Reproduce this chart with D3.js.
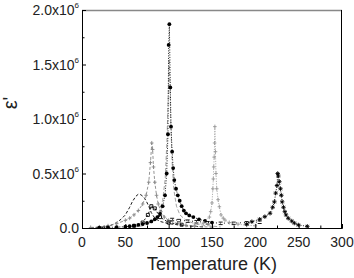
<!DOCTYPE html>
<html>
<head>
<meta charset="utf-8">
<script src="https://cdn.jsdelivr.net/npm/d3@7"></script>
<style>
  body { margin: 0; background: #fff; }
  svg { display: block; font-family: "Liberation Sans", Arial, sans-serif; }
</style>
</head>
<body>
<div id="chart"></div>
<script>
// values in units of 1e6
const xTicks = [0, 50, 100, 150, 200, 250, 300];
const yTicks = [0, 0.5, 1.0, 1.5, 2.0];

// broad black dashed curve
const bT = [10, 20, 30, 35, 40, 45, 50, 55, 58, 62, 65, 68, 71, 74, 77, 80, 84, 90, 100, 110, 120, 140];
const bV = [0.002, 0.005, 0.015, 0.03, 0.05, 0.08, 0.12, 0.19, 0.24, 0.29, 0.31, 0.305, 0.285, 0.25, 0.2, 0.14, 0.09, 0.06, 0.04, 0.03, 0.02, 0.01];

// gray dashed, peak near 80 K
const aT = [10, 20, 30, 40, 50, 55, 60, 65, 70, 74, 77, 79, 80.5, 81.5, 82.5, 84, 86, 88, 91, 95, 100, 110, 120, 130, 150];
const aV = [0.005, 0.01, 0.02, 0.04, 0.07, 0.09, 0.12, 0.16, 0.22, 0.3, 0.42, 0.6, 0.78, 0.72, 0.56, 0.42, 0.3, 0.22, 0.15, 0.1, 0.07, 0.04, 0.025, 0.015, 0.008];

// gray dashed, peak near 101 K
const dT = [60, 70, 80, 88, 93, 96, 98, 99.5, 100.5, 101.5, 102.5, 104, 106, 109, 113, 120, 130, 140, 160];
const dV = [0.01, 0.02, 0.05, 0.12, 0.25, 0.45, 0.8, 1.2, 1.55, 1.3, 0.95, 0.6, 0.35, 0.2, 0.12, 0.07, 0.04, 0.025, 0.01];

// filled circles, dotted
const cT = [20, 30, 40, 50, 55, 60, 65, 70, 75, 80, 84, 87, 90, 93, 95.8, 97.7, 99.2, 100, 100.8, 101.9, 102.7, 104, 105.2, 106.5, 108.5, 110.5, 112.7, 115, 117.5, 120, 123.8, 128.5, 135, 142, 150];
const cV = [0.004, 0.006, 0.008, 0.012, 0.016, 0.022, 0.028, 0.036, 0.046, 0.06, 0.08, 0.1, 0.13, 0.2, 0.3, 0.5, 0.86, 1.68, 1.87, 1.29, 0.93, 0.7, 0.55, 0.44, 0.36, 0.3, 0.25, 0.2, 0.16, 0.135, 0.115, 0.1, 0.08, 0.065, 0.05];

// small open squares, peak near 82 K
const gT = [60, 70, 76, 80, 84, 90, 100, 115];
const gV = [0.02, 0.05, 0.12, 0.2, 0.18, 0.1, 0.05, 0.03];

// low dashes 100-205 K
const hT = [104, 112, 122, 132, 145, 160, 175, 190, 205];
const hV = [0.08, 0.07, 0.065, 0.06, 0.05, 0.045, 0.045, 0.05, 0.055];

// gray plus, peak near 153 K
const eT = [130, 140, 147, 148.5, 150, 151, 151.5, 152, 152.5, 153, 153.3, 154, 154.6, 155.5, 157, 158.5, 160.4, 163, 165, 170, 180, 190, 200];
const eV = [0.025, 0.045, 0.1, 0.15, 0.23, 0.36, 0.45, 0.56, 0.65, 0.78, 0.93, 0.7, 0.5, 0.36, 0.26, 0.195, 0.12, 0.09, 0.073, 0.05, 0.035, 0.025, 0.02];

// black stars, peak near 226 K
const fT = [190, 196, 205, 211, 217, 220, 222, 223.5, 225, 225.8, 226.5, 227.7, 229, 230, 231, 232.5, 234, 235.4, 238, 242, 245, 249.6, 260];
const fV = [0.035, 0.058, 0.08, 0.104, 0.135, 0.19, 0.24, 0.32, 0.39, 0.5, 0.477, 0.425, 0.36, 0.3, 0.24, 0.19, 0.15, 0.12, 0.089, 0.064, 0.045, 0.028, 0.015];

const W = 354, H = 278;
const m = { left: 82, right: 12, top: 10, bottom: 50 };

const x = d3.scaleLinear().domain([0, 300]).range([m.left, W - m.right]);
const y = d3.scaleLinear().domain([0, 2.0]).range([H - m.bottom, m.top]);

const svg = d3.select('#chart').append('svg')
    .attr('width', W)
    .attr('height', H);

svg.append('clipPath').attr('id', 'clip')
  .append('rect')
    .attr('x', m.left).attr('y', m.top)
    .attr('width', x(300) - m.left).attr('height', y(0) - m.top);

const plot = svg.append('g').attr('clip-path', 'url(#clip)');

const zip = (ts, vs) => ts.map((t, i) => [t, vs[i]]);
const line = d3.line().x(d => x(d[0])).y(d => y(d[1]));

const series = [
  { data: zip(bT, bV), color: '#000', dash: '3,2', marker: null },
  { data: zip(aT, aV), color: '#888', dash: '3,2', marker: 'plus' },
  { data: zip(dT, dV), color: '#999', dash: '4,2', marker: null },
  { data: zip(gT, gV), color: '#000', dash: '2,2', marker: 'square' },
  { data: zip(hT, hV), color: '#000', dash: '1,3', marker: 'dash' },
  { data: zip(cT, cV), color: '#000', dash: '1,1.5', marker: 'circle' },
  { data: zip(eT, eV), color: '#999', dash: '1,1.5', marker: 'plus' },
  { data: zip(fT, fV), color: '#000', dash: '1,1.5', marker: 'star' },
];

const markers = {
  plus: 'M-1.8,0H1.8M0,-2V2',
  dash: 'M-2,-1H2M-2,1.5H2',
  star: 'M-2.2,0H2.2M0,-2.2V2.2M-1.5,-1.5L1.5,1.5M-1.5,1.5L1.5,-1.5',
  square: 'M-1.5,-1.5H1.5V1.5H-1.5Z',
};

series.forEach(s => {
  plot.append('path')
      .datum(s.data)
      .attr('fill', 'none')
      .attr('stroke', s.color)
      .attr('stroke-width', 0.9)
      .attr('stroke-dasharray', s.dash)
      .attr('d', line);

  if (!s.marker) return;
  const g = plot.append('g');
  if (s.marker === 'circle') {
    g.selectAll('circle')
      .data(s.data)
      .enter().append('circle')
        .attr('cx', d => x(d[0]))
        .attr('cy', d => y(d[1]))
        .attr('r', 1.9)
        .attr('fill', s.color);
  } else {
    g.selectAll('path')
      .data(s.data)
      .enter().append('path')
        .attr('transform', d => `translate(${x(d[0])},${y(d[1])})`)
        .attr('d', markers[s.marker])
        .attr('fill', 'none')
        .attr('stroke', s.color)
        .attr('stroke-width', 0.9);
  }
});

// frame
svg.append('line')
    .attr('x1', m.left).attr('x2', x(300))
    .attr('y1', y(2) + 0.5).attr('y2', y(2) + 0.5)
    .attr('stroke', '#888').attr('stroke-width', 1.5);
svg.append('line')
    .attr('x1', x(300) - 0.5).attr('x2', x(300) - 0.5)
    .attr('y1', y(2)).attr('y2', y(0))
    .attr('stroke', '#000');

// axes with inward ticks
const yAxis = svg.append('g')
    .attr('transform', `translate(${m.left},0)`)
    .call(d3.axisLeft(y).tickValues(d3.range(0, 2.01, 0.25)).tickSize(-4).tickFormat(''));
yAxis.selectAll('.tick line')
    .attr('x2', (d, i) => i % 2 ? 2.5 : 4);
yAxis.select('.domain').attr('stroke', '#000');

const xAxis = svg.append('g')
    .attr('transform', `translate(0,${y(0)})`)
    .call(d3.axisBottom(x).tickValues(d3.range(0, 301, 25)).tickSize(-4).tickFormat(''));
xAxis.selectAll('.tick line')
    .attr('y2', (d, i) => i % 2 ? -2.5 : -4);

// tick labels
const yLab = svg.append('g')
    .attr('font-size', 14)
    .attr('fill', '#222');
yTicks.forEach(v => {
  const t = yLab.append('text')
      .attr('x', m.left - 3)
      .attr('y', y(v) + 5)
      .attr('text-anchor', 'end');
  if (v === 0) {
    t.text('0.0');
  } else {
    t.append('tspan').text(v.toFixed(1) + 'x10');
    t.append('tspan').attr('font-size', 8).attr('dy', -7).text('6');
  }
});

svg.append('g')
    .attr('font-size', 14)
    .attr('fill', '#222')
  .selectAll('text')
  .data(xTicks)
  .enter().append('text')
    .attr('x', d => x(d))
    .attr('y', y(0) + 19)
    .attr('text-anchor', 'middle')
    .text(d => d);

svg.append('text')
    .attr('x', (m.left + x(300)) / 2)
    .attr('y', H - 8)
    .attr('text-anchor', 'middle')
    .attr('font-size', 18)
    .attr('fill', '#222')
    .text('Temperature (K)');

svg.append('text')
    .attr('transform', 'translate(17,103) rotate(-90)')
    .attr('text-anchor', 'middle')
    .attr('font-size', 20)
    .attr('fill', '#222')
    .text('ε\'');
</script>
</body>
</html>
